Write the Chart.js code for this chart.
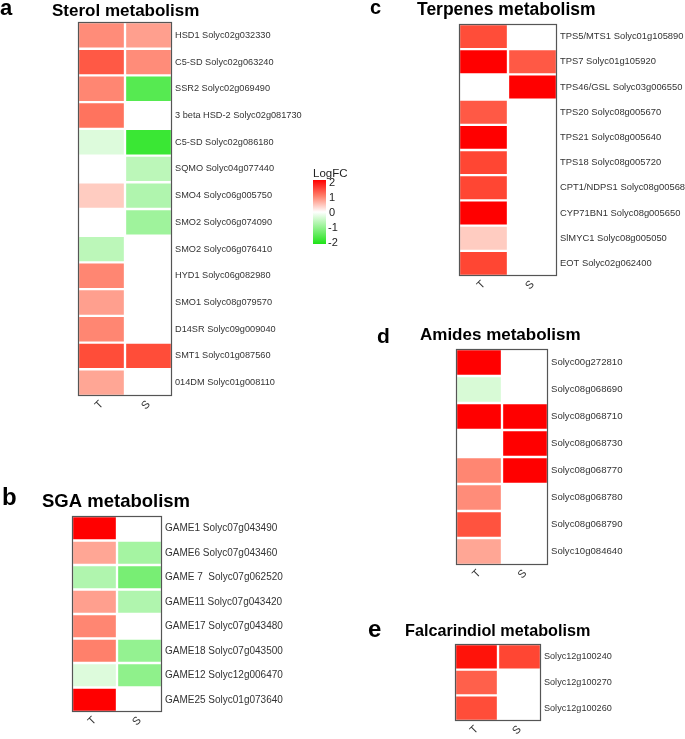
<!DOCTYPE html>
<html>
<head>
<meta charset="utf-8">
<script src="https://cdn.jsdelivr.net/npm/chart.js@4.4.1/dist/chart.umd.min.js"></script>
<style>
  html, body { margin: 0; padding: 0; background: #fff; overflow: hidden; }
  body { position: relative; width: 685px; height: 739px; }
  canvas { position: absolute; }
</style>
</head>
<body>
<canvas id="panelA" width="350" height="425" style="left:0;top:0"></canvas>
<canvas id="panelB" width="340" height="269" style="left:0;top:470px"></canvas>
<canvas id="panelC" width="345" height="305" style="left:345px;top:0"></canvas>
<canvas id="panelD" width="340" height="290" style="left:345px;top:305px"></canvas>
<canvas id="panelE" width="340" height="144" style="left:345px;top:595px"></canvas>
<script>
// colonnes communes
const columns = ['T', 'S'];

// a - Sterol metabolism
const sterolGenes = ['HSD1 Solyc02g032330', 'C5-SD Solyc02g063240', 'SSR2 Solyc02g069490',
  '3 beta HSD-2 Solyc02g081730', 'C5-SD Solyc02g086180', 'SQMO Solyc04g077440',
  'SMO4 Solyc06g005750', 'SMO2 Solyc06g074090', 'SMO2 Solyc06g076410', 'HYD1 Solyc06g082980',
  'SMO1 Solyc08g079570', 'D14SR Solyc09g009040', 'SMT1 Solyc01g087560', '014DM Solyc01g008110'];
const sterolT = [0.9, 1.3, 0.95, 1.1, -0.3, 0, 0.4, 0, -0.6, 0.95, 0.75, 0.95, 1.4, 0.7];
const sterolS = [0.75, 0.9, -1.5, 0, -1.75, -0.6, -0.7, -0.85, 0, 0, 0, 0, 1.4, 0];

// b - SGA metabolism
const sgaGenes = ['GAME1 Solyc07g043490', 'GAME6 Solyc07g043460', 'GAME 7  Solyc07g062520',
  'GAME11 Solyc07g043420', 'GAME17 Solyc07g043480', 'GAME18 Solyc07g043500',
  'GAME12 Solyc12g006470', 'GAME25 Solyc01g073640'];
const sgaT = [2, 0.7, -0.7, 0.75, 0.95, 1.0, -0.3, 2];
const sgaS = [0, -0.8, -1.2, -0.7, 0, -0.95, -1.0, 0];

// c - Terpenes metabolism
const terpGenes = ['TPS5/MTS1 Solyc01g105890', 'TPS7 Solyc01g105920', 'TPS46/GSL Solyc03g006550',
  'TPS20 Solyc08g005670', 'TPS21 Solyc08g005640', 'TPS18 Solyc08g005720',
  'CPT1/NDPS1 Solyc08g00568', 'CYP71BN1 Solyc08g005650', 'SlMYC1 Solyc08g005050', 'EOT Solyc02g062400'];
const terpT = [1.4, 2, 0, 1.3, 2, 1.45, 1.45, 2, 0.4, 1.45];
const terpS = [0, 1.3, 2, 0, 0, 0, 0, 0, 0, 0];

// d - Amides metabolism
const amideGenes = ['Solyc00g272810', 'Solyc08g068690', 'Solyc08g068710', 'Solyc08g068730',
  'Solyc08g068770', 'Solyc08g068780', 'Solyc08g068790', 'Solyc10g084640'];
const amideT = [2, -0.35, 2, 0, 0.95, 0.9, 1.35, 0.7];
const amideS = [0, 0, 2, 2, 2, 0, 0, 0];

// e - Falcarindiol metabolism
const falcGenes = ['Solyc12g100240', 'Solyc12g100270', 'Solyc12g100260'];
const falcT = [1.85, 1.25, 1.4];
const falcS = [1.45, 0, 0];

// légende LogFC
const legendTicks = [2, 1, 0, -1, -2];

const FONT = '"Liberation Sans", Arial, sans-serif';

// palette vert - blanc - rouge (rouge légèrement orangé comme l'original)
function logfcColor(v) {
    if (v >= 0) {
        const k = 1 - Math.min(v / 2, 1);
        const g = Math.round(255 * k);
        const b = Math.round(255 * Math.pow(k, 1.25));
        return 'rgb(255,' + g + ',' + b + ')';
    }
    const t = Math.min(-v / 2, 1);
    const r = Math.round(255 - t * 225);
    const g = Math.round(255 - t * 28);
    const b = Math.round(255 - t * 232);
    return 'rgb(' + r + ',' + g + ',' + b + ')';
}

// cadre gris + lettre et titre du panneau
const panelPlugin = {
    id: 'panelDeco',
    afterDatasetsDraw(chart, args, opts) {
        const ctx = chart.ctx;
        const a = chart.chartArea;
        ctx.save();
        ctx.strokeStyle = '#555';
        ctx.lineWidth = 1.2;
        ctx.strokeRect(a.left + 0.5, a.top + 0.5, a.right - a.left - 1, a.bottom - a.top - 1);
        ctx.fillStyle = '#000';
        ctx.textBaseline = 'alphabetic';
        ctx.font = 'bold ' + opts.letterSize + 'px ' + FONT;
        ctx.fillText(opts.letter, opts.lx, opts.ly);
        ctx.font = 'bold ' + opts.titleSize + 'px ' + FONT;
        ctx.fillText(opts.title, opts.tx, opts.ty);
        ctx.restore();
    }
};

// barre de couleur LogFC (panneau a)
const legendPlugin = {
    id: 'logfcLegend',
    afterDraw(chart, args, opts) {
        if (!opts.show) return;
        const ctx = chart.ctx;
        const x = 313, top = 180, w = 13, h = 64;
        ctx.save();
        const grad = ctx.createLinearGradient(0, top, 0, top + h);
        legendTicks.forEach((v, i) => grad.addColorStop(i / (legendTicks.length - 1), logfcColor(v)));
        ctx.fillStyle = grad;
        ctx.fillRect(x, top, w, h);
        ctx.fillStyle = '#222';
        ctx.font = '11.5px ' + FONT;
        ctx.textBaseline = 'alphabetic';
        ctx.fillText('LogFC', 313, 177);
        ctx.font = '11px ' + FONT;
        ctx.textBaseline = 'middle';
        legendTicks.forEach((v, i) => {
            const y = top + 3 + i * (h - 4) / (legendTicks.length - 1);
            ctx.fillText(String(v), v < 0 ? 328 : 329, y);
        });
        ctx.restore();
    }
};

function makeHeatmap(id, genes, tVals, sVals, cfg) {
    const canvas = document.getElementById(id);
    const datasets = [tVals, sVals].map((vals, c) => ({
        label: columns[c],
        data: genes.map(() => [c, c + 1]),
        backgroundColor: vals.map(logfcColor),
        borderColor: '#fff',
        borderWidth: 1.5,
        borderSkipped: false,
        grouped: false,
        barPercentage: 1,
        categoryPercentage: 1
    }));

    return new Chart(canvas, {
        type: 'bar',
        data: { labels: genes, datasets: datasets },
        options: {
            indexAxis: 'y',
            responsive: false,
            animation: false,
            devicePixelRatio: 1,
            layout: { padding: { left: cfg.left, top: cfg.top, right: 0, bottom: 0 } },
            scales: {
                y: {
                    type: 'category',
                    position: 'right',
                    grid: { display: false, drawTicks: false },
                    border: { display: false },
                    ticks: { color: '#333', padding: 3, autoSkip: false, font: { family: FONT, size: cfg.labelSize } },
                    afterFit: (s) => { s.width = cfg.yWidth; }
                },
                x: {
                    type: 'linear',
                    min: 0,
                    max: columns.length,
                    grid: { display: false, drawTicks: false },
                    border: { display: false },
                    afterBuildTicks: (s) => { s.ticks = columns.map((c, i) => ({ value: i + 0.5 })); },
                    ticks: {
                        color: '#333',
                        padding: 2,
                        autoSkip: false,
                        minRotation: 45,
                        maxRotation: 45,
                        font: { family: FONT, size: 11 },
                        callback: (v) => columns[Math.floor(v)]
                    },
                    afterFit: (s) => { s.height = cfg.xHeight; }
                }
            },
            plugins: {
                legend: { display: false },
                tooltip: { enabled: false },
                panelDeco: cfg.deco,
                logfcLegend: { show: !!cfg.withLegend }
            }
        },
        plugins: [panelPlugin, legendPlugin]
    });
}

makeHeatmap('panelA', sterolGenes, sterolT, sterolS, {
    left: 78, top: 22, yWidth: 178, xHeight: 29, labelSize: 9.2, withLegend: true,
    deco: { letter: 'a', letterSize: 22, lx: 0, ly: 15, title: 'Sterol metabolism', titleSize: 17, tx: 52, ty: 16 }
});
makeHeatmap('panelB', sgaGenes, sgaT, sgaS, {
    left: 72, top: 46, yWidth: 178, xHeight: 27, labelSize: 10,
    deco: { letter: 'b', letterSize: 24, lx: 2, ly: 35, title: 'SGA metabolism', titleSize: 18.5, tx: 42, ty: 37 }
});
makeHeatmap('panelC', terpGenes, terpT, terpS, {
    left: 114, top: 24, yWidth: 133, xHeight: 29, labelSize: 9.4,
    deco: { letter: 'c', letterSize: 20, lx: 25, ly: 14, title: 'Terpenes metabolism', titleSize: 17.5, tx: 72, ty: 15 }
});
makeHeatmap('panelD', amideGenes, amideT, amideS, {
    left: 111, top: 44, yWidth: 137, xHeight: 30, labelSize: 9.6,
    deco: { letter: 'd', letterSize: 21, lx: 32, ly: 38, title: 'Amides metabolism', titleSize: 17, tx: 75, ty: 35 }
});
makeHeatmap('panelE', falcGenes, falcT, falcS, {
    left: 110, top: 49, yWidth: 144, xHeight: 18, labelSize: 9.1,
    deco: { letter: 'e', letterSize: 24, lx: 23, ly: 42, title: 'Falcarindiol metabolism', titleSize: 16.2, tx: 60, ty: 41 }
});
</script>
</body>
</html>
